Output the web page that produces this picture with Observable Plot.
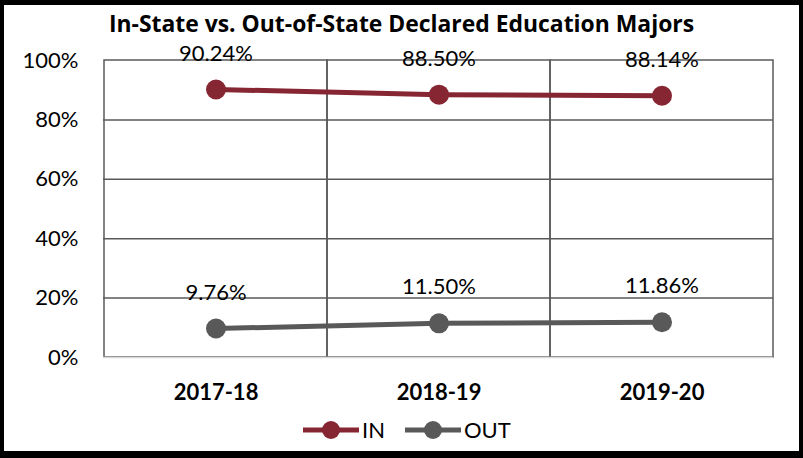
<!DOCTYPE html>
<html>
<head>
<meta charset="utf-8">
<script src="https://cdn.jsdelivr.net/npm/d3@7"></script>
<script src="https://cdn.jsdelivr.net/npm/@observablehq/plot@0.6"></script>
<style>
  html, body { margin: 0; padding: 0; background: #fff; }
  #wrap { position: relative; width: 803px; height: 458px; overflow: hidden; font-family: Lato, "Open Sans", sans-serif; }
  #title { position: absolute; left: 0; top: 13px; width: 803px; text-align: center; font-family: "Open Sans", Lato, sans-serif; font-weight: bold; font-size: 22.9px; line-height: 22px; color: #000; white-space: nowrap; }
  #legend { position: absolute; left: 0; top: 419px; width: 803px; height: 22px; }
  #border { position: absolute; left: 0; top: 0; width: 803px; height: 458px; box-sizing: border-box; border-style: solid; border-color: #000; border-width: 5px 4px 7px 4px; pointer-events: none; }
  #chart svg { position: absolute; left: 0; top: 0; }
</style>
</head>
<body>
<div id="wrap">
  <div id="chart"></div>
  <div id="title">In-State vs. Out-of-State Declared Education Majors</div>
  <div id="legend"></div>
  <div id="border"></div>
</div>
<script>
const years = ["2017-18", "2018-19", "2019-20"];
const seriesNames = ["IN", "OUT"];
const seriesColors = ["#862633", "#595959"];
const inValues = [0.9024, 0.8850, 0.8814];
const outValues = [0.0976, 0.1150, 0.1186];
const yTicks = [0, 0.2, 0.4, 0.6, 0.8, 1.0];

const rows = [];
years.forEach((yr, i) => {
  rows.push({year: yr, series: "IN", value: inValues[i]});
  rows.push({year: yr, series: "OUT", value: outValues[i]});
});
const colorOf = Object.fromEntries(seriesNames.map((s, i) => [s, seriesColors[i]]));
const pct = d3.format(".2%");

const chart = Plot.plot({
  width: 803,
  height: 458,
  marginLeft: 103,
  marginRight: 30,
  marginTop: 60,
  marginBottom: 101,
  style: {fontFamily: "Lato, 'Open Sans', sans-serif", background: "transparent", overflow: "visible"},
  x: {type: "band", domain: years, padding: 0, label: null},
  y: {domain: [0, 1], label: null},
  marks: [
    Plot.ruleY(yTicks.filter(t => t > 0 && t < 1), {stroke: "#595959", strokeWidth: 1.5}),
    Plot.barY(years, {x: d => d, y1: 0, y2: 1, fill: "none", stroke: "#595959", strokeWidth: 1.5, inset: 0}),
    Plot.ruleY([0], {stroke: "#d9d9d9", strokeWidth: 1.5}),
    Plot.axisY({ticks: yTicks, tickSize: 0, tickPadding: 25, tickFormat: d3.format(".0%"), fontSize: 22, fill: "#000", label: null}),
    Plot.axisX({tickSize: 0, tickPadding: 27, fontSize: 22, fontWeight: "bold", fill: "#000", label: null}),
    ...seriesNames.map(s => Plot.line(rows.filter(r => r.series === s), {x: "year", y: "value", stroke: colorOf[s], strokeWidth: 5})),
    ...seriesNames.map(s => Plot.dot(rows.filter(r => r.series === s), {x: "year", y: "value", r: 10, fill: colorOf[s], stroke: "none"})),
    Plot.text(rows, {x: "year", y: "value", text: d => pct(d.value), dy: -36, fontSize: 22, fill: "#000"})
  ]
});
document.getElementById("chart").appendChild(chart);

// Legend
const legend = d3.select("#legend");
const legendLayout = [{x: 303}, {x: 405}];
seriesNames.forEach((s, i) => {
  const item = legend.append("div")
    .style("position", "absolute")
    .style("left", legendLayout[i].x + "px")
    .style("top", "0px")
    .style("display", "flex")
    .style("align-items", "center")
    .style("height", "22px");
  const sw = item.append("svg").attr("width", 56).attr("height", 22).style("display", "block");
  sw.append("line").attr("x1", 0).attr("x2", 56).attr("y1", 11).attr("y2", 11)
    .attr("stroke", seriesColors[i]).attr("stroke-width", 5).attr("stroke-linecap", "round");
  sw.append("circle").attr("cx", 28).attr("cy", 11).attr("r", 9).attr("fill", seriesColors[i]);
  item.append("span").text(s)
    .style("font-size", "22px").style("line-height", "22px").style("margin-left", "3px").style("color", "#000");
});
</script>
</body>
</html>
